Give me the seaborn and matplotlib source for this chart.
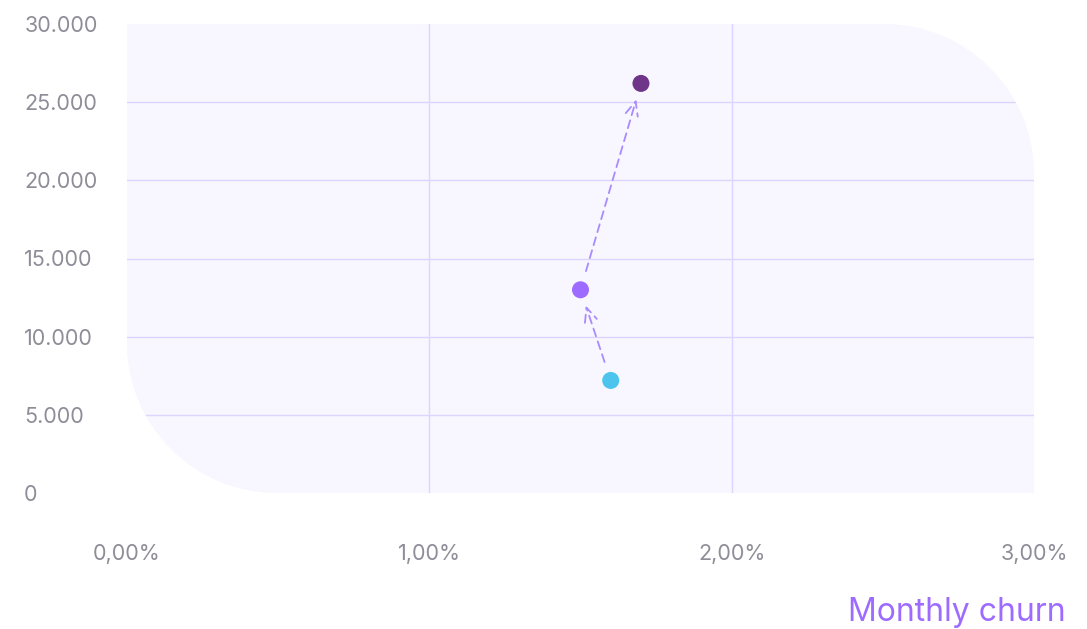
"""Monthly churn vs. value scatter with dashed transition arrows."""

import matplotlib
matplotlib.use("Agg")
import matplotlib.pyplot as plt
from matplotlib.path import Path
from matplotlib.patches import PathPatch
import pandas as pd
import seaborn as sns

# data
stages = ["A", "B", "C"]
churn_pct = [1.6, 1.5, 1.7]
values = [7200, 13000, 26200]
stage_colors = ["#4CC4EE", "#9D6BFF", "#6E3589"]
arrows = [(0, 1), (1, 2)]

x_ticks = [0, 1, 2, 3]
x_labels = ["0,00%", "1,00%", "2,00%", "3,00%"]
y_ticks = [0, 5000, 10000, 15000, 20000, 25000, 30000]
y_labels = ["0", "5.000", "10.000", "15.000", "20.000", "25.000", "30.000"]

df = pd.DataFrame({"stage": stages, "churn": churn_pct, "value": values})

sns.set_style("white")
plt.rcParams["font.family"] = ["Inter", "DejaVu Sans"]

W, H = 1087, 629
fig = plt.figure(figsize=(W / 100, H / 100), dpi=100)
ax = fig.add_axes([127 / W, (H - 493) / H, 907 / W, 469 / H])
ax.set_xlim(0, 3)
ax.set_ylim(0, 30000)
for s in ax.spines.values():
    s.set_visible(False)

# background panel: square TL/BR corners, rounded TR/BL corners
rx, ry = 150 / 907, 150 / 469
k = 0.5523
verts = [
    (0, 1), (1 - rx, 1),
    (1 - rx + k * rx, 1), (1, 1 - ry + k * ry), (1, 1 - ry),
    (1, 0), (rx, 0),
    (rx - k * rx, 0), (0, ry - k * ry), (0, ry),
    (0, 1),
]
codes = [Path.MOVETO, Path.LINETO,
         Path.CURVE4, Path.CURVE4, Path.CURVE4,
         Path.LINETO, Path.LINETO,
         Path.CURVE4, Path.CURVE4, Path.CURVE4,
         Path.CLOSEPOLY]
panel = PathPatch(Path(verts, codes), transform=ax.transAxes,
                  facecolor="#F8F6FE", edgecolor="none", zorder=0)
ax.add_patch(panel)

for y in y_ticks[1:-1]:
    ln = ax.axhline(y, color="#DDD4FF", lw=1, zorder=1)
    ln.set_clip_path(panel)
for x in x_ticks[1:-1]:
    ln = ax.axvline(x, color="#DDD4FF", lw=1, zorder=1)
    ln.set_clip_path(panel)

sns.scatterplot(data=df, x="churn", y="value", hue="stage",
                palette=stage_colors, s=150, edgecolor="none",
                legend=False, ax=ax, zorder=3)

for a, b in arrows:
    ax.annotate("", xy=(churn_pct[b], values[b]),
                xytext=(churn_pct[a], values[a]),
                arrowprops=dict(arrowstyle="->,head_length=1.0,head_width=0.45",
                                color="#A98BFF", lw=1.3, ls=(0, (4.5, 3)),
                                shrinkA=14, shrinkB=12),
                zorder=2)

ax.set_xticks(x_ticks)
ax.set_xticklabels(x_labels)
ax.set_yticks(y_ticks)
ax.set_yticklabels(y_labels)
ax.tick_params(axis="x", length=0, pad=37, labelsize=15.5, labelcolor="#8E8D98")
ax.tick_params(axis="y", length=0, pad=74, labelsize=15.5, labelcolor="#8E8D98")
for lab in ax.get_yticklabels():
    lab.set_ha("left")
ax.set_xlabel("")
ax.set_ylabel("")

fig.text(1066 / W, 1 - 612 / H, "Monthly churn", ha="right", va="center",
         fontsize=23, color="#9D6BFF")

fig.savefig("out.png", dpi=100)
plt.close(fig)
